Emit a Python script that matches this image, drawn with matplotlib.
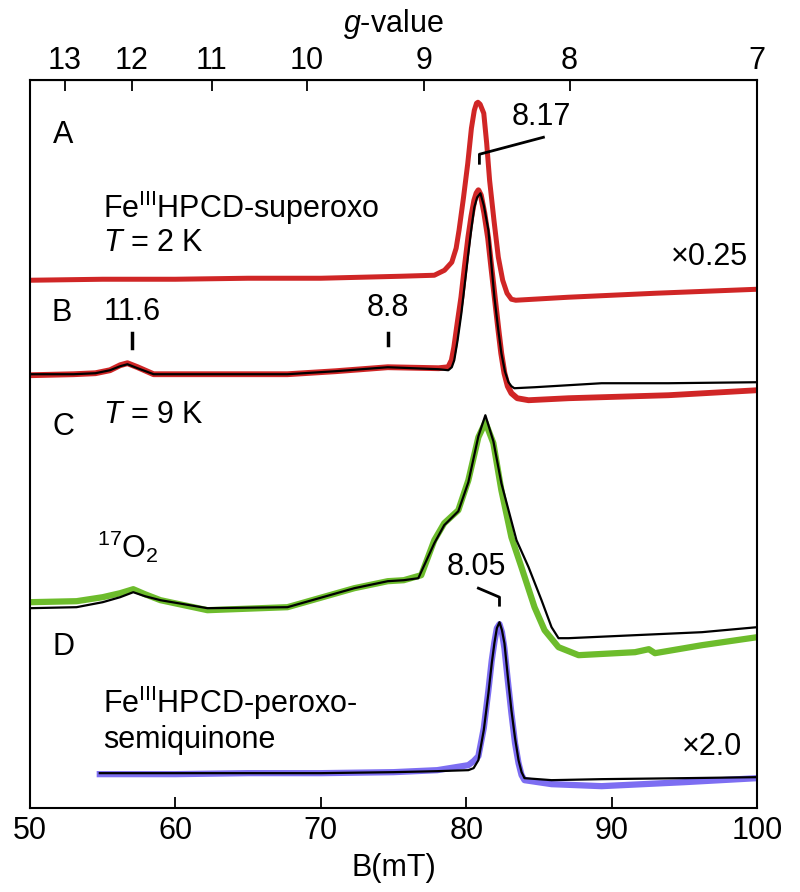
import matplotlib
matplotlib.use("Agg")
import matplotlib.pyplot as plt

plt.rcParams['font.family'] = ['Liberation Sans', 'DejaVu Sans']
plt.rcParams['mathtext.fontset'] = 'custom'
plt.rcParams['mathtext.rm'] = 'Liberation Sans'
plt.rcParams['mathtext.it'] = 'Liberation Sans:italic'

# field positions (mT) and stacked intensities
a_field = [50, 55, 60, 65, 70, 75.5, 77.8, 78.5, 79.0, 79.3, 79.5, 79.8, 80.1, 80.35, 80.55, 80.7, 80.8, 80.95,
           81.2, 81.4, 81.6, 81.9, 82.2, 82.5, 82.8, 83.1, 83.4, 87.0, 93.0, 100]
a_red = [528, 529, 529, 530, 530, 532, 533, 538, 546, 560, 578, 610, 645, 680, 698, 705, 706, 704,
         695, 665, 628, 588, 551, 528, 515, 509, 508, 511, 515, 519]

b_field = [50, 53, 54.5, 55.5, 56.2, 56.7, 57.4, 58.5, 62, 67.7, 71, 74.6, 78.1, 78.76, 79.0, 79.17, 79.4, 79.66,
           79.9, 80.14, 80.35, 80.55, 80.7, 80.83, 81.0, 81.24, 81.5, 81.72, 82.0, 82.21, 82.4, 82.62, 82.85,
           83.1, 83.5, 84.28, 87.03, 93.9, 100]
b_red = [433, 434, 435, 438, 443, 445, 441, 434, 434, 434, 437, 441, 440, 441, 448, 461, 485, 511,
         542, 571, 592, 608, 615, 618, 613, 595, 570, 541, 505, 478, 455, 435, 422,
         415, 410, 408, 410, 413, 418]
b_fit_field = [50, 53, 54.5, 55.5, 56.2, 56.7, 57.4, 58.5, 62, 67.7, 71, 74.6, 78.1, 78.76, 79.0, 79.17, 79.4,
               79.66, 79.9, 80.14, 80.35, 80.55, 80.75, 80.97, 81.2, 81.52, 81.7, 81.93, 82.2, 82.41, 82.65,
               82.9, 83.1, 83.3, 84.7, 89.3, 93.9, 100]
b_fit = [434, 434, 435, 438, 442, 444, 440, 434, 434, 434, 437, 441, 439, 438, 441, 448, 468,
         495, 525, 555, 580, 601, 611, 615, 603, 578, 548, 511, 478, 455, 437,
         426, 422, 420, 421, 425, 425, 426]

c_field = [50, 53.2, 55, 56.2, 57.1, 57.9, 58.97, 62.2, 67.7, 72.3, 74.6, 75.7, 76.9, 77.8, 78.48, 79.45, 80.14,
           80.83, 81.31, 81.86, 82.41, 83.1, 83.79, 84.69, 85.38, 86.34, 87.72, 91.6, 92.55, 92.97, 96.2, 100]
c_green = [206, 207, 211, 215, 219, 214, 208, 198, 201, 220, 227, 228, 233, 268, 285, 298, 328,
           371, 386, 365, 318, 271, 241, 201, 178, 161, 153, 156, 159, 155, 163, 171]
c_fit_field = [50, 53.2, 55, 56.2, 57.1, 57.9, 58.97, 62.2, 67.7, 72.3, 74.6, 75.7, 76.7, 77.8, 78.48, 79.45,
               80.14, 80.83, 81.31, 81.86, 82.41, 83.45, 84.28, 85.17, 85.86, 86.34, 87.03, 91.6, 96.2, 100]
c_fit = [200, 201, 206, 211, 216, 212, 208, 200, 201, 220, 227, 228, 230, 265, 283, 297,
         326, 372, 393, 367, 325, 268, 241, 208, 181, 170, 170, 173, 176, 181]

d_field = [54.8, 60, 65, 70, 75, 78, 80.14, 80.5, 80.83, 81.2, 81.52, 81.75, 81.93, 82.1, 82.28, 82.45, 82.62,
           82.85, 83.1, 83.35, 83.59, 83.8, 84.0, 85.86, 89.3, 95, 100]
d_blue = [34, 34, 35, 35, 36, 38, 43, 47, 52, 80, 118, 148, 166, 180, 184, 176, 160,
          128, 95, 65, 45, 33, 28, 24, 22, 26, 30]
d_fit = [35, 35, 35, 35, 36, 37, 38, 40, 48, 78, 115, 145, 165, 180, 186, 178, 165,
         132, 98, 70, 48, 36, 30, 28, 29, 30, 31]

g_ticks = [13, 12, 11, 10, 9, 8, 7]
b_ticks = [50, 60, 70, 80, 90, 100]


# top axis mapping used on the original figure (B = a/g + b)
def g_to_b(g):
    return 722.0 / g - 3.15


def b_to_g(b):
    return 722.0 / (b + 3.15)


red = '#d02626'
green = '#6dbc2c'
blue = '#7d6ef2'

fig = plt.figure(figsize=(8, 8.92), dpi=100)
ax = fig.add_axes([0.0375, 0.094, 0.909, 0.816])

ax.plot(a_field, a_red, color=red, lw=3.6, solid_joinstyle='round')
ax.plot(b_field, b_red, color=red, lw=4.2, solid_joinstyle='round')
ax.plot(b_fit_field, b_fit, color='black', lw=1.6)
ax.plot(c_field, c_green, color=green, lw=4.5, solid_joinstyle='round')
ax.plot(c_fit_field, c_fit, color='black', lw=1.6)
ax.plot(d_field, d_blue, color=blue, lw=4.5, solid_joinstyle='round')
ax.plot(d_field, d_fit, color='black', lw=1.6)

fs = 22
ax.set_xlim(50, 100)
ax.set_ylim(0, 728)
ax.set_yticks([])
ax.set_xticks(b_ticks)
ax.tick_params(axis='x', direction='in', length=8, width=1.3, labelsize=fs, pad=6)
ax.set_xlabel('B(mT)', fontsize=fs, labelpad=5)
for s in ax.spines.values():
    s.set_linewidth(1.5)

top = ax.secondary_xaxis('top', functions=(b_to_g, g_to_b))
top.set_xticks(g_ticks)
top.set_xticklabels([str(g) for g in g_ticks])
top.tick_params(direction='in', length=8, width=1.3, labelsize=fs, pad=3)
top.set_xlabel(r'$g$-value', fontsize=fs, labelpad=10)

ax.text(52.3, 673, 'A', fontsize=fs, ha='center', va='center')
ax.text(55.0, 600, r'Fe$^{\rm III}$HPCD-superoxo', fontsize=fs, ha='left', va='center')
ax.text(55.0, 565, r'$T$ = 2 K', fontsize=fs, ha='left', va='center')
ax.text(52.2, 495, 'B', fontsize=fs, ha='center', va='center')
ax.text(57.03, 496, '11.6', fontsize=fs, ha='center', va='center')
ax.plot([57.03, 57.03], [460, 475], color='black', lw=2.5)
ax.text(74.62, 500, '8.8', fontsize=fs, ha='center', va='center')
ax.plot([74.62, 74.62], [463, 475], color='black', lw=2.5)
ax.text(52.3, 381, 'C', fontsize=fs, ha='center', va='center')
ax.text(55.0, 393, r'$T$ = 9 K', fontsize=fs, ha='left', va='center')
ax.text(54.6, 261, r'$^{17}$O$_2$', fontsize=fs, ha='left', va='center')
ax.text(52.3, 161, 'D', fontsize=fs, ha='center', va='center')
ax.text(55.0, 105, r'Fe$^{\rm III}$HPCD-peroxo-', fontsize=fs, ha='left', va='center')
ax.text(55.0, 68, 'semiquinone', fontsize=fs, ha='left', va='center')
ax.text(96.7, 551, '×0.25', fontsize=fs, ha='center', va='center')
ax.text(96.9, 61, '×2.0', fontsize=fs, ha='center', va='center')

ax.text(85.17, 691, '8.17', fontsize=fs, ha='center', va='center')
ax.plot([85.3, 80.9, 80.9], [671, 654, 645], color='black', lw=2)
ax.text(80.69, 241, '8.05', fontsize=fs, ha='center', va='center')
ax.plot([80.83, 82.28, 82.28], [220, 211, 203], color='black', lw=2)

fig.savefig('out.png', dpi=100)
